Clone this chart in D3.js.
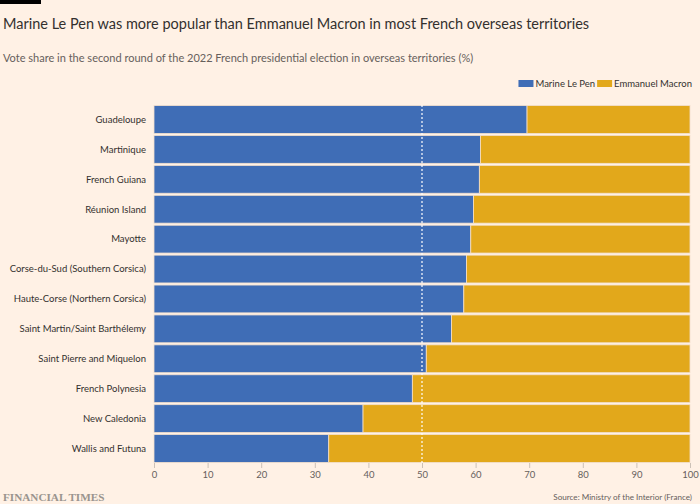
<!DOCTYPE html>
<html><head><meta charset="utf-8">
<script src="https://cdn.jsdelivr.net/npm/d3@7"></script>
<style>body{margin:0;background:#fff1e5;}svg{display:block;}</style>
</head><body><svg id="c" width="700" height="504"></svg>
<script>
const categories = ["Guadeloupe","Martinique","French Guiana","Réunion Island","Mayotte","Corse-du-Sud (Southern Corsica)","Haute-Corse (Northern Corsica)","Saint Martin/Saint Barthélemy","Saint Pierre and Miquelon","French Polynesia","New Caledonia","Wallis and Futuna"];
const lePen = [69.6,60.9,60.7,59.6,59.1,58.3,57.8,55.5,50.8,48.2,39.0,32.6];
const macron = lePen.map(v => +(100 - v).toFixed(1));
const seriesNames = ["Marine Le Pen","Emmanuel Macron"];
const colors = ["#3f6db6","#e2a81b"];
const xTicks = [0,10,20,30,40,50,60,70,80,90,100];

const svg = d3.select("#c");
const font = "Lato, 'Open Sans', sans-serif";
const m = {l:154, r:690, t:105, b:463};
const x = d3.scaleLinear().domain([0,100]).range([m.l, m.r]);
const y = d3.scaleBand().domain(categories).range([m.t, m.b]).paddingInner(0.07).paddingOuter(0.02);

svg.append("rect").attr("x",0).attr("y",0).attr("width",700).attr("height",504).attr("fill","#fff1e5");
svg.append("rect").attr("x",0).attr("y",0).attr("width",41).attr("height",4).attr("fill","#000");

svg.append("text").attr("x",3).attr("y",29).attr("font-family",font).attr("font-size",14.5).attr("fill","#33302e")
  .text("Marine Le Pen was more popular than Emmanuel Macron in most French overseas territories");
svg.append("text").attr("x",3).attr("y",62).attr("font-family",font).attr("font-size",11).attr("fill","#66605c")
  .text("Vote share in the second round of the 2022 French presidential election in overseas territories (%)");

// legend, laid out right-to-left ending at x=692
const lg = svg.append("g").attr("font-family",font).attr("font-size",9.5).attr("fill","#33302e");
let cursor = 692;
for (let i = seriesNames.length - 1; i >= 0; i--) {
  const t = lg.append("text").attr("y",87).text(seriesNames[i]);
  const w = t.node().getComputedTextLength();
  t.attr("x", cursor - w);
  lg.append("rect").attr("x",cursor - w - 17).attr("y",80).attr("width",15).attr("height",7).attr("fill",colors[i]);
  cursor = cursor - w - 19;
}

// bars
const stackData = categories.map((c,i)=>({cat:c, lp:lePen[i], em:macron[i]}));
const stack = d3.stack().keys(["lp","em"])(stackData);
svg.append("g").selectAll("g").data(stack).join("g").attr("fill",(d,i)=>colors[i])
  .selectAll("rect").data(d=>d).join("rect")
  .attr("x",d=>x(d[0])).attr("y",d=>y(d.data.cat))
  .attr("width",d=>x(d[1])-x(d[0])).attr("height",y.bandwidth())
  .attr("stroke","#f2dfce").attr("stroke-width",0.8);

// 50% line
svg.append("line").attr("x1",x(50)).attr("x2",x(50)).attr("y1",m.t).attr("y2",m.b)
  .attr("stroke","#fff").attr("stroke-width",1.2).attr("stroke-dasharray","2,2");

// y labels
svg.append("g").attr("font-family",font).attr("font-size",9.5).attr("fill","#33302e").attr("text-anchor","end")
  .selectAll("text").data(categories).join("text")
  .attr("x",m.l-8).attr("y",d=>y(d)+y.bandwidth()/2).attr("dy","0.35em").text(d=>d);

// x axis
const xa = svg.append("g").attr("transform",`translate(0,${m.b})`)
  .call(d3.axisBottom(x).tickValues(xTicks).tickSize(5).tickPadding(3).tickFormat(d3.format("d")));
xa.select(".domain").remove();
xa.selectAll("line").attr("stroke","#ccc1b7");
xa.selectAll("text").attr("font-family",font).attr("font-size",9.5).attr("fill","#66605c");

svg.append("text").attr("x",3).attr("y",501).attr("font-family","'Liberation Serif', serif").attr("font-size",11.2)
  .attr("font-weight","bold").attr("fill","#9a948e").text("FINANCIAL TIMES");
svg.append("text").attr("x",692).attr("y",500).attr("text-anchor","end").attr("font-family",font).attr("font-size",8.1)
  .attr("fill","#66605c").text("Source: Ministry of the Interior (France)");
</script></body></html>
